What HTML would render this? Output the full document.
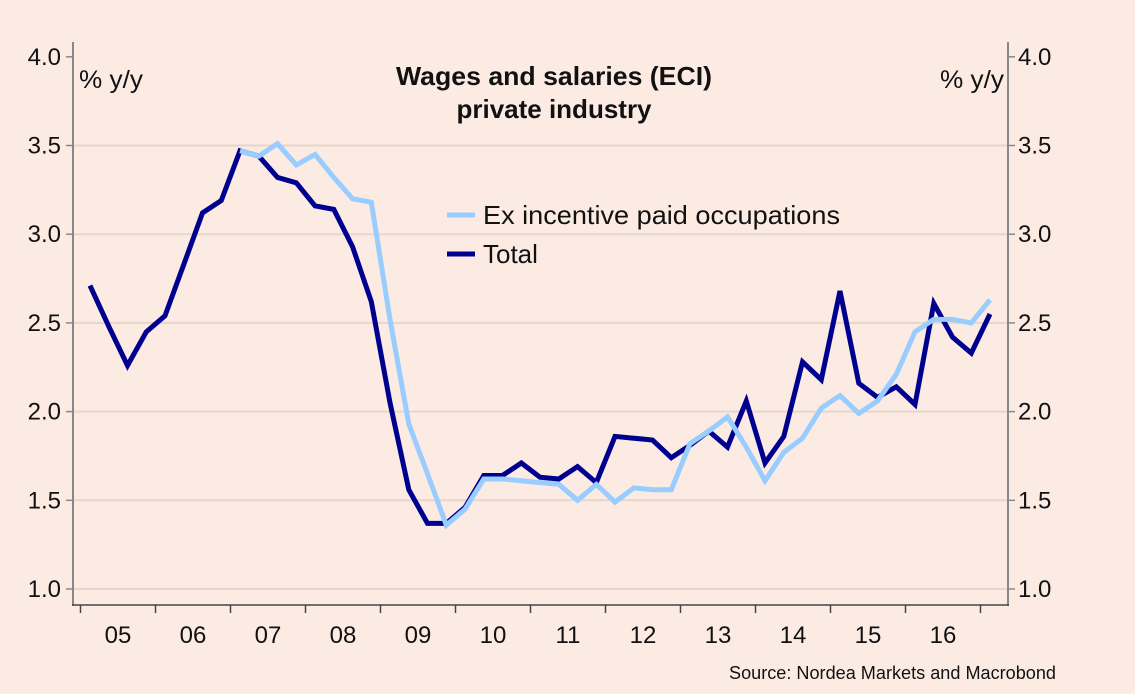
<!DOCTYPE html>
<html><head><meta charset="utf-8"><style>
html,body{margin:0;padding:0;background:#fcebe3;}
svg{display:block;font-family:"Liberation Sans",sans-serif;}
</style></head><body>
<svg id="chart" width="1135" height="694" viewBox="0 0 1135 694">
<rect x="0" y="0" width="1135" height="694" fill="#fcebe3"/>
<g id="grid"></g>
<g id="axes"></g>
<g id="series"></g>
<text x="554" y="85" text-anchor="middle" font-size="26" font-weight="bold" fill="#111" textLength="316" lengthAdjust="spacingAndGlyphs">Wages and salaries (ECI)</text>
<text x="554" y="118" text-anchor="middle" font-size="26" font-weight="bold" fill="#111">private industry</text>
<text x="79" y="88" font-size="25" fill="#111" textLength="64" lengthAdjust="spacingAndGlyphs">% y/y</text>
<text x="1004" y="88" text-anchor="end" font-size="25" fill="#111" textLength="64" lengthAdjust="spacingAndGlyphs">% y/y</text>
<g>
<line x1="447" y1="215" x2="475" y2="215" stroke="#99ccff" stroke-width="5"/>
<text x="483" y="224" font-size="26" fill="#111" textLength="357" lengthAdjust="spacingAndGlyphs">Ex incentive paid occupations</text>
<line x1="447" y1="254" x2="475" y2="254" stroke="#000090" stroke-width="5"/>
<text x="483" y="263" font-size="26" fill="#111">Total</text>
</g>
<text x="1056" y="679" text-anchor="end" font-size="18" fill="#111" textLength="327" lengthAdjust="spacingAndGlyphs">Source: Nordea Markets and Macrobond</text>
</svg>
<script>
const yearLabels = ["05","06","07","08","09","10","11","12","13","14","15","16"];
const yTicks = [1.0,1.5,2.0,2.5,3.0,3.5,4.0];
const totalValues = [2.71,2.48,2.26,2.45,2.54,2.83,3.12,3.19,3.47,3.44,3.32,3.29,3.16,3.14,2.93,2.62,2.05,1.56,1.37,1.37,1.46,1.64,1.64,1.71,1.63,1.62,1.69,1.60,1.86,1.85,1.84,1.74,1.81,1.89,1.80,2.06,1.71,1.86,2.28,2.18,2.68,2.16,2.08,2.14,2.04,2.61,2.42,2.33,2.55];
const exIncentiveStart = 8;
const exIncentiveValues = [3.47,3.44,3.51,3.39,3.45,3.32,3.20,3.18,2.52,1.93,1.65,1.36,1.45,1.62,1.62,1.61,1.60,1.59,1.50,1.59,1.49,1.57,1.56,1.56,1.82,1.89,1.97,1.80,1.61,1.77,1.85,2.02,2.09,1.99,2.06,2.21,2.45,2.52,2.52,2.50,2.63];

const NS="http://www.w3.org/2000/svg";
const x0=90, dx=18.75, yearStart=80.5, yearW=75;
function xQ(i){return x0+i*dx;}
function yV(v){return 589-(v-1)*177.4;}
function mk(tag,attrs,parent){const e=document.createElementNS(NS,tag);for(const k in attrs)e.setAttribute(k,attrs[k]);parent.appendChild(e);return e;}
const grid=document.getElementById('grid'), axes=document.getElementById('axes'), series=document.getElementById('series');
yTicks.forEach(v=>{
  const y=yV(v);
  if(v<4){const g=mk('line',{x1:73,x2:1008,y1:y,y2:y,stroke:'#e6d6cc','stroke-width':2},grid);
  
  }
  const t1=mk('line',{x1:66,x2:73,y1:y,y2:y,stroke:'#888','stroke-width':1.5},axes);
  
  
  const t2=mk('line',{x1:1008,x2:1015,y1:y,y2:y,stroke:'#888','stroke-width':1.5},axes);
  
  
  const l=mk('text',{x:61,y:y+8,'text-anchor':'end','font-size':24,fill:'#111'},axes);l.textContent=v.toFixed(1);
  
  
  const r=mk('text',{x:1018,y:y+8,'font-size':24,fill:'#111'},axes);r.textContent=v.toFixed(1);
  
  
});
const la=mk('line',{x1:73,x2:73,y1:42,y2:606,stroke:'#888','stroke-width':2},axes);


const ra=mk('line',{x1:1008,x2:1008,y1:42,y2:606,stroke:'#888','stroke-width':2},axes);


const ba=mk('line',{x1:72,x2:1009,y1:605,y2:605,stroke:'#444','stroke-width':1.5},axes);


for(let k=0;k<=yearLabels.length;k++){
  const x=yearStart+k*yearW;
  const t=mk('line',{x1:x,x2:x,y1:605,y2:613,stroke:'#444','stroke-width':1.5},axes);
  
  
  if(k<yearLabels.length){
    const l=mk('text',{x:x+yearW/2,y:643,'text-anchor':'middle','font-size':24,fill:'#111'},axes);l.textContent=yearLabels[k];
    
    
  }
}
function pathFor(vals,start){return vals.map((v,i)=>(i?'L':'M')+xQ(i+start).toFixed(1)+','+yV(v).toFixed(1)).join(' ');}
const pt=mk('path',{d:pathFor(totalValues,0),fill:'none',stroke:'#000090','stroke-width':5,'stroke-linejoin':'miter'},series);


const pe=mk('path',{d:pathFor(exIncentiveValues,exIncentiveStart),fill:'none',stroke:'#99ccff','stroke-width':5,'stroke-linejoin':'miter'},series);


</script>
</body></html>
